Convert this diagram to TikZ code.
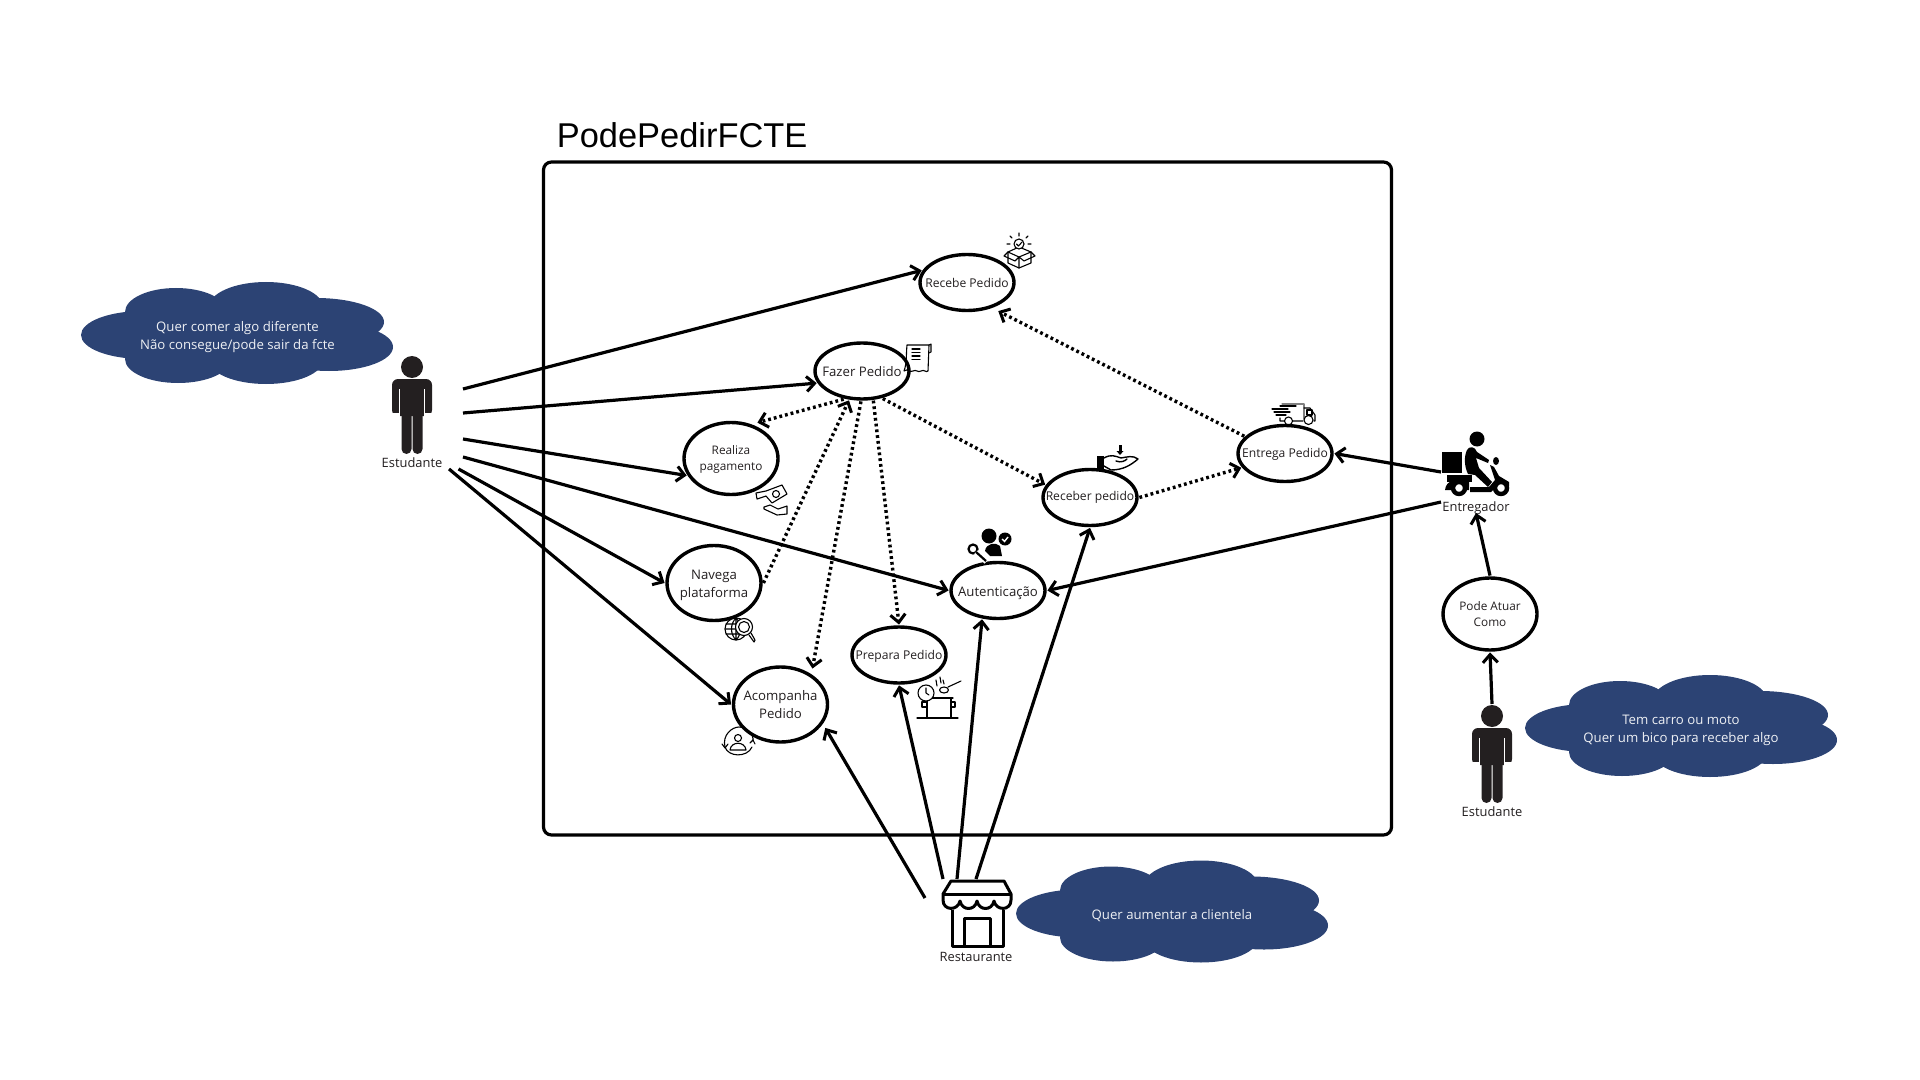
\documentclass[tikz,border=0pt]{standalone}
\usepackage{fontspec}
\setmainfont{Open Sans}
\newfontfamily\titulofont{Liberation Sans}
\usetikzlibrary{arrows.meta, shapes.geometric}
\definecolor{azulnuvem}{HTML}{2C4374}
\definecolor{corpo}{HTML}{231F20}
\tikzset{
    caso/.style={ellipse, draw=black, line width=1.7pt, minimum width=47pt, minimum height=28pt, inner sep=0pt, outer sep=1.2pt},
    casoalto/.style={caso, minimum height=36pt},
    casotexto/.style={align=center, text=corpo, inner sep=0pt, font=\fontsize{6.05}{8}\selectfont},
    rotulo/.style={text=corpo, inner sep=0pt, font=\fontsize{6.45}{8}\selectfont},
    nuvemtexto/.style={align=center, text=white!92!azulnuvem, inner sep=0pt, font=\fontsize{6.6}{9}\selectfont},
    seta/.style={line width=1.6pt, -{Straight Barb[length=4pt, width=7.5pt, line width=1.5pt]}},
    pontos/.style={seta, line width=1.7pt, dash pattern=on 1.4pt off 1.5pt},
    icone/.style={line width=0.55pt, line cap=round, line join=round},
    nuvem/.pic={
        \fill[azulnuvem] (-94,2) ellipse [x radius=62, y radius=24];
        \fill[azulnuvem] (-61,-21) ellipse [x radius=51, y radius=24];
        \fill[azulnuvem] (29,-26) ellipse [x radius=57, y radius=25];
        \fill[azulnuvem] (79,-11) ellipse [x radius=68, y radius=24];
        \fill[azulnuvem] (92,14) ellipse [x radius=64, y radius=24];
        \fill[azulnuvem] (29,27) ellipse [x radius=57, y radius=24];
        \fill[azulnuvem] (-59,26) ellipse [x radius=53, y radius=24];
        \fill[azulnuvem] (-80,-20) rectangle (90,25);
    },
    pessoa/.pic={
        \fill[corpo] (0,0) circle [radius=11];
        \fill[corpo, rounded corners=3pt] (-20,12) rectangle (20,49);
        \fill[white] (-13,22) rectangle (-12.4,50);
        \fill[white] (12.4,22) rectangle (13,50);
        \fill[white] (-21,46) rectangle (-12.7,50);
        \fill[white] (12.7,46) rectangle (21,50);
        \fill[corpo, rounded corners=2.5pt] (-10.5,40) rectangle (-0.5,87);
        \fill[corpo, rounded corners=2.5pt] (0.5,40) rectangle (10.5,87);
    },
    caixa/.pic={
        \draw[icone] (4,19) -- (4,30) -- (15,35) -- (27,30) -- (27,19);
        \draw[icone] (4,19) -- (15,24) -- (27,19) -- (15,14) -- cycle;
        \draw[icone] (15,24) -- (15,35) (4,19) -- (0,23) -- (11,28) -- (15,24) -- (20,28) -- (31,23) -- (27,19);
        \draw[icone, fill=white] (15,11) circle [radius=5];
        \draw[icone] (12.5,11) -- (14.5,13) -- (18,9);
        \draw[icone] (15,0) -- (15,3) (6,3) -- (8,5) (24,3) -- (22,5) (3,11) -- (6,11) (27,11) -- (24,11);
    },
    recibo/.pic={
        \draw[icone] (3,2) .. controls (2,12) and (3,20) .. (0,28) .. controls (4,25) and (6,30) .. (9,28) .. controls (12,26) and (14,30) .. (17,28) .. controls (20,26) and (22,30) .. (24,28) -- (25,2) -- (3,2);
        \draw[icone] (25,2) -- (27,1) -- (27,9) -- (25,10);
        \draw[icone] (8,6) -- (16,6) (8,9.5) -- (16,9.5) (8,13) -- (16,13) (8,16.5) -- (16,16.5);
    },
    dinheiro/.pic={
        \draw[icone] (0,8) -- (10,6) -- (26,0) -- (31,9) -- (16,18) -- (10,11) -- (1,14) -- cycle;
        \draw[icone] (20,9) circle [radius=3.5];
        \draw[icone] (8,22) -- (14,20) -- (22,24) -- (31,21) -- (31,29) -- (21,30) -- (8,24) -- cycle;
    },
    maorecebe/.pic={
        \fill (0,11) rectangle (7,25);
        \draw[icone, line width=0.7pt] (7,13) .. controls (14,9) and (18,11) .. (24,13) .. controls (30,12) and (36,10) .. (41,14) .. controls (34,20) and (26,25) .. (14,25) -- (7,21);
        \draw[icone, line width=0.7pt] (19,16) .. controls (24,18) and (28,16) .. (30,14);
        \draw[line width=1.5pt] (23,0) -- (23,7);
        \fill (19.5,6) -- (26.5,6) -- (23,10) -- cycle;
    },
    caminhao/.pic={
        \draw[icone, gray] (10,1) -- (32,1) -- (32,16);
        \draw[icone] (0,6) -- (16,6) (2,9) -- (18,9) (4,12) -- (14,12) (8,3) -- (24,3);
        \draw[icone] (8,15) -- (8,18) -- (12,18) (21,18) -- (31,18) (32,5) -- (38,5) -- (43,12) -- (43,18) -- (42,18);
        \draw[icone] (35,7) rectangle (40,12);
        \draw[icone] (16.5,18) circle [radius=4];
        \draw[icone] (36.5,17) circle [radius=4.5];
    },
    entregador/.pic={
        \fill (0,12) rectangle (20,33);
        \fill (5,34.5) rectangle (30,42);
        \fill (35,-1) circle [radius=7.5];
        \fill (25,10) .. controls (27,6) and (33,6) .. (35,12) -- (47,20) -- (46,23) -- (34,18) -- (37,28) -- (50,42) -- (46,47) -- (33,35) -- (26,34) .. controls (22,26) and (22,16) .. (25,10) -- cycle;
        \fill (54,21) ellipse [x radius=3, y radius=4];
        \fill (48,25) -- (52,27) -- (57,36) -- (67,42) -- (67,46) -- (55,46) -- (49,52) -- (28,52) -- (28,47) -- (47,47) -- (53,40) -- cycle;
        \fill (3,50) .. controls (4,40) and (14,38) .. (27,42) -- (27,50) -- cycle;
        \draw[line width=2.2pt, fill=white] (17,48) circle [radius=6];
        \draw[line width=2.2pt, fill=white] (59,48) circle [radius=6];
    },
    usuariochave/.pic={
        \fill (22,7) circle [radius=7.5];
        \fill (18,22) .. controls (19,14) and (29,13) .. (33,17) -- (35,27) -- (23,27) -- cycle;
        \draw[line width=1.1pt, fill=white] (6,20) circle [radius=4.5];
        \draw[white, line width=2.2pt] (9,23) -- (19,33);
        \draw[line width=1.1pt] (9,23) -- (19,32);
        \fill (38,10) circle [radius=6.5];
        \draw[white, line width=0.7pt] (35,10) -- (37.5,12.5) -- (41,8);
    },
    globolupa/.pic={
        \draw[icone] (11,15) circle [radius=11];
        \draw[icone] (11,4) .. controls (5,10) and (5,20) .. (11,26) .. controls (17,20) and (17,10) .. (11,4) (0,15) -- (22,15) (1,10) -- (21,10) (1,20) -- (21,20) (11,4) -- (11,26);
        \draw[icone, fill=white] (19,13) circle [radius=8.5];
        \draw[icone] (19,13) circle [radius=5.5];
        \draw[icone] (24,21) -- (29,28) -- (30,26) -- (26,19);
    },
    panela/.pic={
        \draw[icone] (0,41) -- (41,41);
        \draw[icone] (10,41) -- (10,21) -- (34,21) -- (34,41);
        \draw[icone] (8,21) -- (36,21) (10,25) -- (5,25) -- (5,30) -- (10,30) (34,25) -- (38,25) -- (38,30) -- (34,30);
        \draw[icone, fill=white] (9,16) circle [radius=8];
        \draw[icone] (9,16) -- (9,11) (9,16) -- (12,18);
        \draw[icone] (27,13) ellipse [x radius=4.5, y radius=3];
        \draw[icone] (31,10) -- (44,4);
        \draw[icone] (19,3) -- (20,9) (23,0) -- (24,6) (26,3) -- (27,7);
    },
    pessoagiro/.pic={
        \draw[icone] (16,11) circle [radius=3.5];
        \draw[icone] (8,23) .. controls (9,14) and (23,14) .. (24,23) -- cycle;
        \draw[icone] (3,20) .. controls (0,8) and (10,0) .. (17,0) .. controls (24,0) and (32,7) .. (31,14);
        \draw[icone] (3,20) .. controls (6,30) and (25,31) .. (30,20);
        \draw[icone] (0,17) -- (3,21) -- (6,17) (28,16) -- (31,13) -- (33,17);
    },
    loja/.pic={
        \draw[line width=1.5pt, line join=round] (9,29) -- (9,65) -- (60,65) -- (60,29);
        \draw[line width=1.5pt, line join=round] (21,65) -- (21,37) -- (47,37) -- (47,65);
        \draw[line width=1.5pt, line join=round] (8,0) -- (61,0) -- (68,13) -- (68,19) .. controls (68,30) and (53,30) .. (51,20) .. controls (49,30) and (36,30) .. (34,20) .. controls (32,30) and (19,30) .. (17,20) .. controls (15,30) and (0,30) .. (0,19) -- (0,13) -- cycle;
        \draw[line width=1.5pt] (0,13) -- (68,13);
    },
}
\begin{document}
\begin{tikzpicture}[x=0.5pt, y=-0.5pt]
    \useasboundingbox (0,0) rectangle (1920,1080);
    \pic (nuvemA) at (237,333) {nuvem};
    \pic (nuvemB) at (1681,726) {nuvem};
    \pic (nuvemC) at (1172,911.5) {nuvem};
    \node[nuvemtexto] (desejoA) at (237.5,337.5) {Quer comer algo diferente\\Não consegue/pode sair da fcte};
    \node[nuvemtexto] (desejoB) at (1681,730.5) {Tem carro ou moto\\Quer um bico para receber algo};
    \node[nuvemtexto] (desejoC) at (1172,915.5) {Quer aumentar a clientela};

    \node[anchor=west, inner sep=0pt, font=\titulofont\fontsize{17.2}{20}\selectfont] (titulo) at (556.5,135) {PodePedirFCTE};
    \node[draw=black, line width=1.6pt, rounded corners=4pt, minimum width=424pt, minimum height=336.5pt] (sistema) at (967.5,498.5) {};

    \node[caso] (recebe) at (967,282.5) {};
    \node[caso] (fazer) at (862,371) {};
    \node[casoalto] (realiza) at (731,458.5) {};
    \node[caso] (receber) at (1090,497.5) {};
    \node[caso] (entrega) at (1285,453.5) {};
    \node[casoalto, minimum height=37.5pt] (navega) at (714,583) {};
    \node[casoalto, minimum height=37.5pt] (acompanha) at (780.5,704.5) {};
    \node[caso] (prepara) at (899,655) {};
    \node[caso] (autentica) at (998,590.5) {};
    \node[casoalto] (pode) at (1490,614) {};

    \node[casotexto] (recebetexto) at (967,282.5) {Recebe Pedido};
    \node[casotexto, font=\fontsize{6.6}{8}\selectfont] (fazertexto) at (862,371.2) {Fazer Pedido};
    \node[casotexto, font=\fontsize{5.9}{8}\selectfont] (realizatexto) at (731,459.7) {Realiza\\pagamento};
    \node[casotexto] (recebertexto) at (1090,497.5) {Receber pedido};
    \node[casotexto] (entregatexto) at (1285,454.7) {Entrega Pedido};
    \node[casotexto, font=\fontsize{6.6}{9}\selectfont] (navegatexto) at (714,585.4) {Navega\\plataforma};
    \node[casotexto, font=\fontsize{6.6}{9}\selectfont] (acompanhatexto) at (780.5,704.5) {Acompanha\\Pedido};
    \node[casotexto] (preparatexto) at (899,656.2) {Prepara Pedido};
    \node[casotexto, font=\fontsize{6.6}{8}\selectfont] (autenticatexto) at (998,592.9) {Autenticação};
    \node[casotexto, font=\fontsize{5.9}{8}\selectfont] (podetexto) at (1490,614) {Pode Atuar\\Como};

    \pic (figuraA) at (412,367) {pessoa};
    \pic (figuraB) at (1492,716) {pessoa};
    \node[rotulo] (estudanteA) at (412,462.5) {Estudante};
    \node[rotulo] (estudanteB) at (1492,812) {Estudante};
    \pic (motoboy) at (1442,440) {entregador};
    \node[rotulo] (entregadorA) at (1476,507.8) {Entregador};
    \pic (fachada) at (943,881) {loja};
    \node[rotulo] (restaurante) at (976,957) {Restaurante};

    \pic (iconeA) at (1004,233) {caixa};
    \pic (iconeB) at (904,343) {recibo};
    \pic (iconeC) at (756,485) {dinheiro};
    \pic (iconeD) at (1097,445) {maorecebe};
    \pic (iconeE) at (1272,403) {caminhao};
    \pic (iconeF) at (967,529) {usuariochave};
    \pic (iconeG) at (725,614) {globolupa};
    \pic (iconeH) at (917,677) {panela};
    \pic (iconeI) at (722,727) {pessoagiro};

    \coordinate (saidaA) at (463,389);
    \coordinate (saidaB) at (463,413);
    \coordinate (saidaC) at (463,439);
    \coordinate (saidaD) at (463,457);
    \coordinate (saidaE) at (458.5,469);
    \coordinate (saidaF) at (449,469);
    \coordinate (lojaA) at (925,898);
    \coordinate (lojaB) at (943,879);
    \coordinate (lojaC) at (957,879);
    \coordinate (lojaD) at (976,879);
    \coordinate (motoA) at (1441,472);
    \coordinate (motoB) at (1441,502);
    \coordinate (motoC) at (1476,513);
    \coordinate (cabeca) at (1492,704);

    \draw[seta] (saidaA) -- (recebe.165);
    \draw[seta] (saidaB) -- (fazer.195);
    \draw[seta] (saidaC) -- (realiza.201);
    \draw[seta] (saidaD) -- (autentica.180);
    \draw[seta] (saidaE) -- (navega.180);
    \draw[seta] (saidaF) -- (acompanha.180);

    \draw[seta, shorten >=2pt] (lojaA) -- (acompanha.-25);
    \draw[seta] (lojaB) -- (prepara.-90);
    \draw[seta] (lojaC) -- (autentica.241);
    \draw[seta] (lojaD) -- (receber.-90);

    \draw[seta] (motoA) -- (entrega.0);
    \draw[seta] (motoB) -- (autentica.0);
    \draw[seta] (pode.90) -- (motoC);
    \draw[seta] (cabeca) -- (pode.-90);

    \draw[pontos, shorten >=2.5pt] (fazer.237) -- (realiza.58);
    \draw[pontos] (navega.0) -- (fazer.-114);
    \draw[pontos, shorten >=2.5pt] (fazer.268) -- (acompanha.45);
    \draw[pontos] (fazer.-69) -- (prepara.90);
    \draw[pontos] (fazer.-53) -- (receber.164);
    \draw[pontos] (receber.0) -- (entrega.198);
    \draw[pontos, shorten >=3pt] (entrega.157) -- (recebe.-45);
\end{tikzpicture}
\end{document}
